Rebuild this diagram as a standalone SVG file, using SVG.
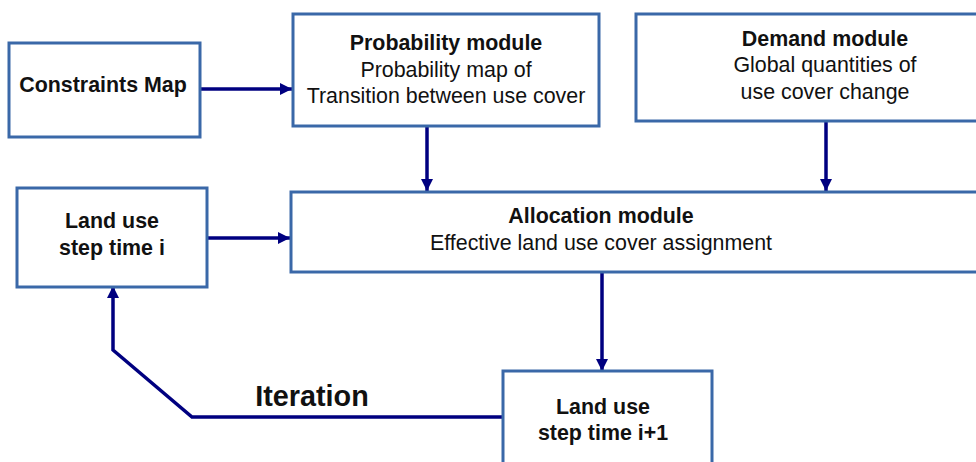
<svg xmlns="http://www.w3.org/2000/svg" width="976" height="462" viewBox="0 0 976 462">
  <style>
    .box { fill: #ffffff; stroke: #3a68a8; stroke-width: 3; }
    .edge { fill: none; stroke: #000080; stroke-width: 3.5; stroke-linejoin: miter; }
    text { font-family: "Liberation Sans", Arial, sans-serif; font-size: 21.4px; fill: #111111; text-anchor: middle; }
    .b { font-weight: bold; }
    .big { font-size: 28.8px; font-weight: bold; }
  </style>
  <defs>
    <marker id="arrow" viewBox="0 0 12 12" refX="12" refY="6" markerWidth="12" markerHeight="12" markerUnits="userSpaceOnUse" orient="auto">
      <path d="M0,0 L12,6 L0,12 Z" fill="#000080"/>
    </marker>
  </defs>

  <rect width="976" height="462" fill="#ffffff"/>

  <!-- connectors -->
  <g id="connectors">
    <line class="edge" x1="200" y1="89" x2="292" y2="89" marker-end="url(#arrow)"/>
    <line class="edge" x1="427" y1="126" x2="427" y2="191" marker-end="url(#arrow)"/>
    <line class="edge" x1="826" y1="121" x2="826" y2="191" marker-end="url(#arrow)"/>
    <line class="edge" x1="207" y1="238" x2="290" y2="238" marker-end="url(#arrow)"/>
    <line class="edge" x1="602" y1="272" x2="602" y2="371" marker-end="url(#arrow)"/>
    <polyline class="edge" points="503,417 192,417 113,350 113,286" marker-end="url(#arrow)"/>
    <text class="big" x="312" y="406">Iteration</text>
  </g>

  <g id="constraints-map">
    <rect class="box" x="9" y="43" width="191" height="94"/>
    <text class="b" x="103" y="92">Constraints Map</text>
  </g>

  <g id="probability-module">
    <rect class="box" x="293" y="14" width="306" height="112"/>
    <text class="b" x="446" y="50">Probability module</text>
    <text x="446" y="77">Probability map of</text>
    <text x="446" y="103">Transition between use cover</text>
  </g>

  <g id="demand-module">
    <rect class="box" x="636" y="14" width="350" height="107"/>
    <text class="b" x="825" y="46">Demand module</text>
    <text x="825" y="72">Global quantities of</text>
    <text x="825" y="99">use cover change</text>
  </g>

  <g id="land-use-i">
    <rect class="box" x="17" y="188" width="190" height="99"/>
    <text class="b" x="112" y="228">Land use</text>
    <text class="b" x="112" y="255">step time i</text>
  </g>

  <g id="allocation-module">
    <rect class="box" x="291" y="192" width="695" height="80"/>
    <text class="b" x="601" y="223">Allocation module</text>
    <text x="601" y="250">Effective land use cover assignment</text>
  </g>

  <g id="land-use-i1">
    <rect class="box" x="503" y="371" width="209" height="100"/>
    <text class="b" x="603" y="414">Land use</text>
    <text class="b" x="603" y="440">step time i+1</text>
  </g>
</svg>
